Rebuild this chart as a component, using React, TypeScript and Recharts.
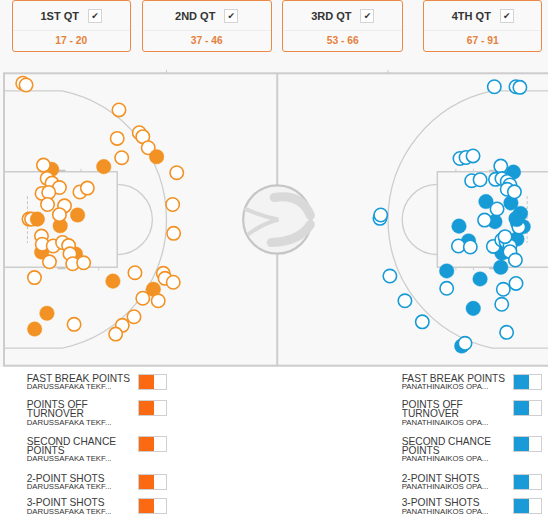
import React from 'react';
import { ScatterChart, Scatter, XAxis, YAxis, ReferenceArea } from 'recharts';

// ---------------- data ----------------
const quarterLabels = ['1ST QT', '2ND QT', '3RD QT', '4TH QT'];
const quarterScores = ['17 - 20', '37 - 46', '53 - 66', '67 - 91'];
const legendTitles = [
  ['FAST BREAK POINTS'],
  ['POINTS OFF', 'TURNOVER'],
  ['SECOND CHANCE', 'POINTS'],
  ['2-POINT SHOTS'],
  ['3-POINT SHOTS'],
];
const homeTeamName = 'DARUSSAFAKA TEKF...';
const awayTeamName = 'PANATHINAIKOS OPA...';

type Shot = { x: number; y: number; made: boolean };
// x: metres from left baseline, y: metres from top sideline
const darussafakaShots: Shot[] = [
  { x: 1.28, y: 7.48, made: false }, { x: 1.41, y: 7.48, made: false },
  { x: 5.11, y: 4.79, made: true }, { x: 5.58, y: 10.66, made: true }, { x: 7.65, y: 11.08, made: true },
  { x: 2.2, y: 12.31, made: true }, { x: 1.57, y: 13.12, made: true }, { x: 2.44, y: 4.93, made: true },
  { x: 1.71, y: 7.48, made: true }, { x: 3.77, y: 7.27, made: true }, { x: 2.88, y: 7.82, made: true },
  { x: 1.93, y: 9.17, made: true }, { x: 3.66, y: 9.27, made: true },
  { x: 0.96, y: 0.51, made: false }, { x: 1.13, y: 0.6, made: false }, { x: 5.89, y: 1.88, made: false },
  { x: 6.93, y: 3.05, made: false }, { x: 7.11, y: 3.25, made: false }, { x: 5.8, y: 3.34, made: false },
  { x: 7.39, y: 3.82, made: false }, { x: 6.03, y: 4.33, made: false }, { x: 8.85, y: 5.1, made: false },
  { x: 8.64, y: 6.73, made: false }, { x: 8.69, y: 8.21, made: false }, { x: 6.71, y: 10.23, made: false },
  { x: 8.16, y: 10.26, made: false }, { x: 8.25, y: 10.52, made: false }, { x: 8.67, y: 10.72, made: false },
  { x: 7.11, y: 11.54, made: false }, { x: 7.9, y: 11.67, made: false }, { x: 6.66, y: 12.49, made: false },
  { x: 6.06, y: 12.93, made: false }, { x: 5.72, y: 13.38, made: false }, { x: 3.59, y: 12.88, made: false },
  { x: 1.56, y: 10.48, made: false },
  { x: 2.02, y: 4.71, made: false }, { x: 2.21, y: 5.39, made: false }, { x: 2.46, y: 5.63, made: false },
  { x: 2.84, y: 5.86, made: false }, { x: 1.95, y: 6.16, made: false }, { x: 2.29, y: 6.11, made: false },
  { x: 3.89, y: 6.09, made: false }, { x: 4.27, y: 5.89, made: false }, { x: 2.23, y: 6.73, made: false },
  { x: 3.1, y: 6.8, made: false }, { x: 2.84, y: 7.25, made: false }, { x: 1.92, y: 8.35, made: false },
  { x: 1.96, y: 8.77, made: false }, { x: 2.52, y: 8.86, made: false }, { x: 3.0, y: 8.68, made: false },
  { x: 3.31, y: 8.84, made: false }, { x: 3.38, y: 9.26, made: false }, { x: 2.33, y: 9.67, made: false },
  { x: 3.52, y: 9.77, made: false }, { x: 4.08, y: 9.72, made: false },
  { x: 7.82, y: 4.28, made: true },
];

const panathinaikosShots: Shot[] = [
  { x: 26.1, y: 5.07, made: true }, { x: 24.69, y: 6.58, made: true }, { x: 25.97, y: 6.65, made: true },
  { x: 25.15, y: 7.61, made: true }, { x: 26.46, y: 7.19, made: true }, { x: 26.6, y: 7.87, made: true },
  { x: 23.31, y: 7.84, made: true }, { x: 23.8, y: 8.6, made: true }, { x: 26.28, y: 8.5, made: true },
  { x: 25.51, y: 9.22, made: true }, { x: 25.45, y: 9.95, made: true }, { x: 22.68, y: 10.14, made: true },
  { x: 24.39, y: 10.55, made: true }, { x: 24.04, y: 12.06, made: true }, { x: 23.45, y: 13.99, made: true },
  { x: 25.12, y: 0.69, made: false }, { x: 26.23, y: 0.69, made: false }, { x: 26.43, y: 0.72, made: false },
  { x: 23.36, y: 4.37, made: false }, { x: 23.67, y: 4.32, made: false }, { x: 24.03, y: 4.24, made: false },
  { x: 23.96, y: 5.51, made: false }, { x: 24.39, y: 5.46, made: false }, { x: 25.45, y: 4.76, made: false },
  { x: 25.18, y: 5.44, made: false }, { x: 25.51, y: 5.4, made: false }, { x: 25.78, y: 5.55, made: false },
  { x: 25.92, y: 5.73, made: false }, { x: 25.78, y: 5.95, made: false }, { x: 26.15, y: 6.08, made: false },
  { x: 25.26, y: 6.96, made: false }, { x: 24.62, y: 7.53, made: false }, { x: 26.23, y: 7.45, made: false },
  { x: 26.31, y: 7.68, made: false }, { x: 26.38, y: 7.89, made: false }, { x: 19.26, y: 7.44, made: false },
  { x: 19.3, y: 7.27, made: false }, { x: 23.28, y: 8.86, made: false }, { x: 23.89, y: 8.91, made: false },
  { x: 25.07, y: 8.88, made: false }, { x: 25.5, y: 8.55, made: false }, { x: 25.72, y: 8.64, made: false },
  { x: 25.92, y: 8.86, made: false }, { x: 25.67, y: 8.38, made: false }, { x: 25.92, y: 9.15, made: false },
  { x: 26.2, y: 9.58, made: false }, { x: 22.68, y: 11.03, made: false }, { x: 26.23, y: 10.78, made: false },
  { x: 25.58, y: 11.08, made: false }, { x: 19.77, y: 10.4, made: false }, { x: 20.54, y: 11.67, made: false },
  { x: 25.5, y: 11.85, made: false }, { x: 21.43, y: 12.75, made: false }, { x: 25.75, y: 13.29, made: false },
  { x: 23.62, y: 13.85, made: false },
  { x: 26.27, y: 7.5, made: true },
];

// ---------------- style / layout ----------------
const ORANGE = '#f39224';
const BLUE = '#179bd7';
const LINE = '#cdcdcd';
const COURT_LEN = 28;
const COURT_WID = 15;

const boxLeft = [11.7, 141.7, 282.3, 423.3];
const boxWidth = [119, 130, 121, 119];
const legendTops = [374, 400, 436.7, 474, 498.3];

const CourtShape = (props: any) => {
  const { x, y, width, height } = props;
  if (x == null || width == null) return null;
  const sx = width / COURT_LEN;
  const sy = height / COURT_WID;
  const X = (m: number) => x + m * sx;
  const Y = (m: number) => y + m * sy;
  const mid = COURT_WID / 2;
  const basket = 1.575;
  const r3 = 6.75;
  const corner = 0.9;
  const cornerX = basket + Math.sqrt(r3 * r3 - (mid - corner) * (mid - corner));
  const keyLen = 5.8;
  const keyHalf = 2.45;
  const ftR = 1.8;
  const halves = [0, 1].map((side) => {
    const fx = (m: number) => (side === 0 ? X(m) : X(COURT_LEN - m));
    const sweep = side === 0 ? 1 : 0;
    const threePt = `M${fx(0)},${Y(corner)} L${fx(cornerX)},${Y(corner)} A${r3 * sx},${r3 * sy} 0 0 ${sweep} ${fx(cornerX)},${Y(COURT_WID - corner)} L${fx(0)},${Y(COURT_WID - corner)}`;
    const key = `M${fx(0)},${Y(mid - keyHalf)} L${fx(keyLen)},${Y(mid - keyHalf)} L${fx(keyLen)},${Y(mid + keyHalf)} L${fx(0)},${Y(mid + keyHalf)}`;
    const ft = `M${fx(keyLen)},${Y(mid - ftR)} A${ftR * sx},${ftR * sy} 0 0 ${sweep} ${fx(keyLen)},${Y(mid + ftR)}`;
    const marks = [3.95, 4.85].flatMap((m) => [
      `M${fx(m)},${Y(mid - keyHalf)} L${fx(m)},${Y(mid - keyHalf) - 3}`,
      `M${fx(m)},${Y(mid + keyHalf)} L${fx(m)},${Y(mid + keyHalf) + 3}`,
    ]);
    return (
      <g key={side}>
        <path d={threePt} fill="none" stroke={LINE} strokeWidth={1.3} />
        <path d={key} fill="none" stroke={LINE} strokeWidth={1.5} />
        <path d={ft} fill="none" stroke={LINE} strokeWidth={1.3} />
        {marks.map((d, i) => (
          <path key={i} d={d} stroke={LINE} strokeWidth={1} />
        ))}
        <rect x={Math.min(fx(2.75), fx(3.15))} y={Y(mid - keyHalf) - 2} width={Math.abs(fx(3.15) - fx(2.75))} height={2} fill="#c4c4c4" />
        <rect x={Math.min(fx(2.75), fx(3.15))} y={Y(mid + keyHalf)} width={Math.abs(fx(3.15) - fx(2.75))} height={2} fill="#c4c4c4" />
        <path d={`M${fx(1.2)},${Y(mid - 1.2)} L${fx(1.2)},${Y(mid + 1.2)}`} stroke="#c4c4c4" strokeWidth={1} strokeDasharray="3 2" />
        <path d={`M${fx(8.325)},${Y(0)} L${fx(8.325)},${Y(0) - 3.5}`} stroke={LINE} strokeWidth={1} />
      </g>
    );
  });
  const lcx = X(COURT_LEN / 2);
  const lcy = Y(mid);
  const lr = 1.8 * sx;
  const k = lr / 35;
  return (
    <g>
      <rect x={X(0)} y={Y(0)} width={COURT_LEN * sx} height={COURT_WID * sy} fill="none" stroke={LINE} strokeWidth={2} />
      <path d={`M${lcx},${Y(0)} L${lcx},${Y(COURT_WID)}`} stroke={LINE} strokeWidth={2} />
      {halves}
      <g transform={`translate(${lcx},${lcy}) scale(${k})`}>
        <circle cx={0} cy={0} r={34} fill="#f3f3f3" stroke="#c6c6c6" strokeWidth={2.2} />
        <path d="M-3,-22 Q24,-26 33,-4" fill="none" stroke="#d9d9d9" strokeWidth={9} strokeLinecap="round" />
        <path d="M-6,23 Q22,22 33,5" fill="none" stroke="#d9d9d9" strokeWidth={9} strokeLinecap="round" />
        <path d="M-31,-10 Q-14,-3 1,0 Q-14,4 -28,14" fill="none" stroke="#d9d9d9" strokeWidth={4} strokeLinecap="round" />
      </g>
    </g>
  );
};

const makeShape = (color: string) => (props: any) => {
  const { cx, cy, payload } = props;
  if (cx == null || cy == null) return null;
  if (payload && payload.made) {
    return <circle cx={cx} cy={cy} r={7.3} fill={color} stroke={color} strokeWidth={0.4} />;
  }
  return <circle cx={cx} cy={cy} r={6.7} fill="#ffffff" stroke={color} strokeWidth={1.6} />;
};

const Toggle = ({ left, top, color }: { left: number; top: number; color: string }) => (
  <div
    style={{
      position: 'absolute',
      left,
      top,
      width: 29,
      height: 16,
      boxSizing: 'border-box',
      border: '1px solid #cfcfcf',
      background: '#fff',
    }}
  >
    <div style={{ position: 'absolute', left: 0, top: 0, width: 15, height: 14, background: color }} />
  </div>
);

const LegendColumn = ({ textLeft, toggleLeft, team, color }: { textLeft: number; toggleLeft: number; team: string; color: string }) => (
  <>
    {legendTitles.map((lines, i) => (
      <React.Fragment key={i}>
        <div style={{ position: 'absolute', left: textLeft, top: legendTops[i], whiteSpace: 'nowrap' }}>
          {lines.map((ln) => (
            <div key={ln} style={{ fontSize: 10.2, lineHeight: '9.3px', color: '#3a3a3a' }}>
              {ln}
            </div>
          ))}
          <div style={{ fontSize: 7.8, lineHeight: '8.7px', color: '#333' }}>{team}</div>
        </div>
        <Toggle left={toggleLeft} top={legendTops[i] - 0.5} color={color} />
      </React.Fragment>
    ))}
  </>
);

export default function App() {
  return (
    <div
      style={{
        position: 'absolute',
        left: 0,
        top: 0,
        width: 548,
        height: 521,
        overflow: 'hidden',
        background: '#ffffff',
        fontFamily: '"Liberation Sans", Arial, sans-serif',
      }}
    >
      <div style={{ position: 'absolute', left: 0, top: 0, width: 548, height: 367, background: '#f8f8f8' }} />
      <div style={{ position: 'absolute', left: 0, top: 0 }}>
        <ScatterChart width={548} height={380} margin={{ top: 73.3, right: 0, bottom: 14.3, left: 4 }}>
          <XAxis type="number" dataKey="x" domain={[0, 27.87]} hide allowDataOverflow />
          <YAxis type="number" dataKey="y" domain={[0, 15]} hide reversed allowDataOverflow />
          <ReferenceArea
            x1={0}
            x2={COURT_LEN}
            y1={0}
            y2={COURT_WID}
            ifOverflow="visible"
            shape={(p: any) => <CourtShape {...p} />}
          />
          <Scatter data={darussafakaShots} isAnimationActive={false} shape={makeShape(ORANGE)} />
          <Scatter data={panathinaikosShots} isAnimationActive={false} shape={makeShape(BLUE)} />
        </ScatterChart>
      </div>

      {quarterLabels.map((q, i) => (
        <div
          key={q}
          style={{
            position: 'absolute',
            left: boxLeft[i],
            top: 0,
            width: boxWidth[i],
            height: 52,
            border: '1.5px solid #ea8a46',
            borderRadius: 3,
            boxSizing: 'border-box',
            background: '#f9f9f9',
          }}
        >
          <div
            style={{
              position: 'absolute',
              left: 0,
              right: 0,
              top: 0,
              height: 29,
              display: 'flex',
              alignItems: 'center',
              justifyContent: 'center',
              gap: 9,
            }}
          >
            <span style={{ fontWeight: 'bold', fontSize: 11, color: '#333' }}>{q}</span>
            <span
              style={{
                width: 14,
                height: 14,
                boxSizing: 'border-box',
                border: '1px solid #d4d4d4',
                background: '#fff',
                display: 'flex',
                alignItems: 'center',
                justifyContent: 'center',
                fontFamily: '"DejaVu Sans", sans-serif',
                fontSize: 9,
                color: '#333',
              }}
            >
              ✔
            </span>
          </div>
          <div style={{ position: 'absolute', left: 0, right: 0, top: 29, height: 1, background: '#ededed' }} />
          <div
            style={{
              position: 'absolute',
              left: 0,
              right: 0,
              top: 31,
              height: 17,
              display: 'flex',
              alignItems: 'center',
              justifyContent: 'center',
              fontWeight: 'bold',
              fontSize: 10.3,
              color: '#e5813d',
            }}
          >
            {quarterScores[i]}
          </div>
        </div>
      ))}

      <LegendColumn textLeft={26.7} toggleLeft={138.3} team={homeTeamName} color="#fb6a12" />
      <LegendColumn textLeft={401.7} toggleLeft={513.3} team={awayTeamName} color="#1a9ad6" />
    </div>
  );
}
